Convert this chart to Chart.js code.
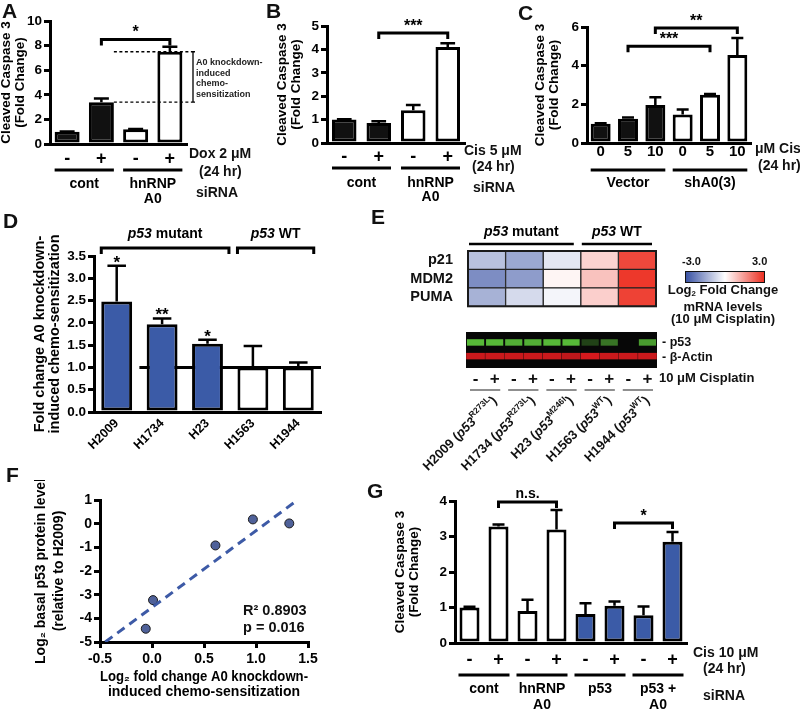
<!DOCTYPE html>
<html>
<head>
<meta charset="utf-8">
<script src="https://cdn.jsdelivr.net/npm/chart.js@4.4.0/dist/chart.umd.min.js"></script>
<style>
body { margin: 0; background: #fff; }
#fig { position: relative; width: 800px; height: 710px; overflow: hidden;
  font-family: 'Liberation Sans', Arial, Helvetica, sans-serif; font-weight: bold; color: #111; }
#fig canvas { position: absolute; }
.t { position: absolute; white-space: nowrap; line-height: 1; }
.L { font-size: 21px; }
.s14 { font-size: 14px; }
.s13 { font-size: 13px; }
.c { text-align: center; }
sub { font-size: 60%; vertical-align: -2px; }
#cbar { position: absolute; left: 685px; top: 271px; width: 78px; height: 10px; border: 1px solid #111;
  background: linear-gradient(to right, rgb(58,83,164), #fff, rgb(236,48,34)); }
</style>
</head>
<body>
<div id="fig">
  <canvas id="chA"></canvas><canvas id="chB"></canvas><canvas id="chC"></canvas>
  <canvas id="chD"></canvas><canvas id="chHeat"></canvas><canvas id="chBlot"></canvas>
  <canvas id="chF"></canvas><canvas id="chG"></canvas>

  <div class="t L" style="left:2px;top:0px">A</div>
  <div class="t L" style="left:266px;top:0px">B</div>
  <div class="t L" style="left:518px;top:2px">C</div>
  <div class="t L" style="left:3px;top:210px">D</div>
  <div class="t L" style="left:371px;top:206px">E</div>
  <div class="t L" style="left:6px;top:464px">F</div>
  <div class="t L" style="left:367px;top:480px">G</div>

  <div class="t s14" style="left:189px;top:146px">Dox 2 μM</div>
  <div class="t s14" style="left:199px;top:164px">(24 hr)</div>
  <div class="t s14" style="left:196px;top:185px">siRNA</div>
  <div class="t" style="left:196px;top:57px;font-size:9px;line-height:10.5px;color:#222">A0 knockdown-<br>induced<br>chemo-<br>sensitization</div>

  <div class="t s14" style="left:464px;top:143px">Cis 5 μM</div>
  <div class="t s14" style="left:472px;top:159px">(24 hr)</div>
  <div class="t s14" style="left:473px;top:180px">siRNA</div>

  <div class="t s14" style="left:755px;top:141px">μM Cis</div>
  <div class="t s14" style="left:758px;top:158px">(24 hr)</div>

  <div class="t" style="left:682px;top:256px;font-size:11px">-3.0</div>
  <div class="t" style="left:752px;top:256px;font-size:11px">3.0</div>
  <div id="cbar"></div>
  <div class="t s13 c" style="left:663px;top:284px;width:120px;line-height:12.5px">Log<sub>2</sub> Fold Change<br>mRNA levels<br>(10 μM Cisplatin)</div>
  <div class="t" style="left:662px;top:336px;font-size:12.5px">- p53</div>
  <div class="t" style="left:662px;top:351px;font-size:12.5px">- β-Actin</div>
  <div class="t s13" style="left:659px;top:371px">10 μM Cisplatin</div>

  <div class="t" style="left:243px;top:603px;font-size:14.5px">R² 0.8903</div>
  <div class="t" style="left:243px;top:620px;font-size:14.5px">p = 0.016</div>

  <div class="t s14" style="left:693px;top:645px">Cis 10 μM</div>
  <div class="t s14" style="left:703px;top:661px">(24 hr)</div>
  <div class="t s14" style="left:703px;top:688px">siRNA</div>
</div>

<script>
// ---- data ----
// A: Dox 2 uM
const aTicks = ['-', '+', '-', '+'];
const aMean = [1.0, 3.4, 1.2, 7.5];
const aSem = [0.02, 0.3, 0.02, 0.4];
// B: Cis 5 uM
const bTicks = ['-', '+', '-', '+'];
const bMean = [1.0, 0.85, 1.4, 4.1];
const bSem = [0.02, 0.08, 0.22, 0.16];
// C: shA0(3) vs vector
const cTicks = ['0', '5', '10', '0', '5', '10'];
const cMean = [1.0, 1.25, 1.97, 1.47, 2.5, 4.55];
const cSem = [0.02, 0.07, 0.4, 0.26, 0.04, 0.88];
// D: chemo-sensitization per cell line
const dLines = ['H2009', 'H1734', 'H23', 'H1563', 'H1944'];
const dMean = [2.48, 1.97, 1.53, 1.0, 1.0];
const dSem = [0.8, 0.13, 0.09, 0.48, 0.11];
const dStars = ['*', '**', '*', '', ''];
// E: heatmap + blot
const eGenes = ['p21', 'MDM2', 'PUMA'];
const eLines = ['H2009', 'H1734', 'H23', 'H1563', 'H1944'];
const eAllele = ['R273L', 'R273L', 'M246I', 'WT', 'WT'];
const eLog2 = [
  [-1.08, -1.52, -0.43, 0.64, 2.65],
  [-1.98, -1.72, 0.15, 0.88, 2.88],
  [-1.34, -0.64, -0.17, 0.69, 2.74]
];
const blotLanes = ['-', '+', '-', '+', '-', '+', '-', '+', '-', '+'];
const blotP53 = [0.9, 0.9, 0.85, 0.85, 0.9, 0.9, 0.3, 0.55, 0, 0.75];
const blotActin = [0.85, 0.85, 0.85, 0.85, 0.85, 0.8, 0.9, 0.85, 0.85, 0.85];
// F: scatter + fit
const fX = [-0.06, 0.01, 0.61, 0.97, 1.32];
const fY = [-4.44, -3.23, -0.92, 0.18, 0.01];
const fFitX = [-0.45, 1.40];
const fFitY = [-5.0, 1.0];
// G: p53 / A0 siRNA
const gTicks = ['-', '+', '-', '+', '-', '+', '-', '+'];
const gMean = [1.0, 3.28, 0.9, 3.2, 0.82, 1.05, 0.78, 2.85];
const gSem = [0.02, 0.06, 0.32, 0.55, 0.3, 0.12, 0.25, 0.28];

const FONT = "'Liberation Sans', Arial, Helvetica, sans-serif";
const BLUE = '#3b5ba7';
Chart.defaults.font.family = FONT;
Chart.defaults.font.weight = 'bold';
Chart.defaults.color = '#000';
Chart.defaults.animation = false;
Chart.defaults.plugins.legend.display = false;
Chart.defaults.plugins.tooltip.enabled = false;

function richText(ctx, parts, x, y, align) {
  let w = 0;
  parts.forEach(p => { ctx.font = p.f; p.w = ctx.measureText(p.t).width; w += p.w; });
  let cx = align === 'center' ? x - w / 2 : (align === 'right' ? x - w : x);
  ctx.textAlign = 'left';
  parts.forEach(p => { ctx.font = p.f; ctx.fillText(p.t, cx, y + (p.dy || 0)); cx += p.w; });
}
const bf = s => 'bold ' + s + 'px ' + FONT;
const bi = s => 'italic bold ' + s + 'px ' + FONT;

// draws error bars, brackets, group lines and other bits from the scales
const deco = {
  id: 'deco',
  beforeDatasetsDraw(chart, args, o) {
    const ctx = chart.ctx, a = chart.chartArea;
    ctx.save();
    if (o.blackBg) {
      ctx.fillStyle = '#070707';
      ctx.fillRect(a.left, a.top, a.right - a.left, a.bottom - a.top);
    }
    if (o.refLine != null) {
      const bars = chart.getDatasetMeta(0).data;
      const y = chart.scales.y.getPixelForValue(o.refLine);
      const x0 = (bars[0].x + bars[0].width / 2 + bars[1].x - bars[1].width / 2) / 2;
      ctx.strokeStyle = '#000'; ctx.lineWidth = 3;
      ctx.beginPath(); ctx.moveTo(x0, y); ctx.lineTo(a.right, y); ctx.stroke();
    }
    ctx.restore();
  },
  afterDatasetsDraw(chart, args, o) {
    const ctx = chart.ctx, a = chart.chartArea;
    const bars = chart.getDatasetMeta(0).data;
    const ys = chart.scales.y;
    const mean = chart.data.datasets[0].data;
    ctx.save();
    ctx.strokeStyle = '#000'; ctx.fillStyle = '#000';
    if (o.sem) {
      ctx.lineWidth = 2.5;
      bars.forEach((b, i) => {
        const yt = ys.getPixelForValue(mean[i] + o.sem[i]);
        const h = b.width * 0.3;
        ctx.beginPath();
        ctx.moveTo(b.x, b.y); ctx.lineTo(b.x, yt);
        ctx.moveTo(b.x - h, yt); ctx.lineTo(b.x + h, yt);
        ctx.stroke();
        if (o.stars && o.stars[i]) {
          ctx.font = bf(17); ctx.textAlign = 'center'; ctx.textBaseline = 'alphabetic';
          ctx.fillText(o.stars[i], b.x, yt + 2);
        }
      });
    }
    (o.brackets || []).forEach(k => {
      const x1 = bars[k.a].x, x2 = bars[k.b].x, y = ys.getPixelForValue(k.v);
      ctx.lineWidth = 3;
      ctx.beginPath(); ctx.moveTo(x1, y + 6); ctx.lineTo(x1, y); ctx.lineTo(x2, y); ctx.lineTo(x2, y + 6); ctx.stroke();
      ctx.font = bf(k.size || 16); ctx.textAlign = 'center'; ctx.textBaseline = 'alphabetic';
      ctx.fillText(k.text, (x1 + x2) / 2, y - (k.lift || 2));
    });
    (o.topBrackets || []).forEach(k => {
      const b1 = bars[k.a], b2 = bars[k.b];
      const x1 = b1.x - b1.width / 2, x2 = b2.x + b2.width / 2 + (k.ext || 0), y = ys.getPixelForValue(k.v);
      ctx.lineWidth = 3;
      ctx.beginPath(); ctx.moveTo(x1, y + 6); ctx.lineTo(x1, y); ctx.lineTo(x2, y); ctx.lineTo(x2, y + 6); ctx.stroke();
      ctx.textBaseline = 'middle';
      richText(ctx, k.parts, (x1 + x2) / 2, y - 14, 'center');
    });
    if (o.span) {
      const s = o.span, b1 = bars[s.a];
      const x0 = b1.x + b1.width / 2, xe = a.right + s.ext;
      const y1 = ys.getPixelForValue(mean[s.a]), y2 = ys.getPixelForValue(mean[s.b]);
      ctx.lineWidth = 1.3; ctx.setLineDash([3, 2.5]);
      ctx.beginPath(); ctx.moveTo(x0, y1); ctx.lineTo(xe, y1); ctx.moveTo(x0, y2); ctx.lineTo(xe, y2); ctx.stroke();
      ctx.setLineDash([]);
      ctx.beginPath(); ctx.moveTo(xe + 2, y1); ctx.lineTo(xe + 2, y2);
      ctx.moveTo(xe, y1); ctx.lineTo(xe + 4, y1); ctx.moveTo(xe, y2); ctx.lineTo(xe + 4, y2); ctx.stroke();
    }
    if (o.groups) {
      ctx.lineWidth = o.gLW || 3; ctx.strokeStyle = o.gColor || '#000';
      o.groups.forEach(g => {
        const b1 = bars[g.a], b2 = bars[g.b];
        const xl = b1.x - b1.width / 2 - (o.gExt || 0), xr = b2.x + b2.width / 2 + (o.gExt || 0);
        const y = a.bottom + o.gLine;
        ctx.beginPath(); ctx.moveTo(xl, y); ctx.lineTo(xr, y); ctx.stroke();
        ctx.font = bf(o.gSize || 14); ctx.textAlign = 'center'; ctx.textBaseline = 'middle';
        (g.lines || []).forEach((t, j) => ctx.fillText(t, (xl + xr) / 2, a.bottom + o.gText + j * o.gLH));
      });
    }
    if (o.rot) {
      const r = o.rot;
      r.names.forEach((n, i) => {
        const cx = (bars[2 * i].x + bars[2 * i + 1].x) / 2;
        ctx.save();
        ctx.translate(cx + r.dx, a.bottom + r.dy);
        ctx.rotate(-Math.PI / 4);
        ctx.textBaseline = 'middle'; ctx.fillStyle = '#111';
        richText(ctx, [
          { t: n + ' (', f: bf(13) },
          { t: 'p53', f: bi(13) },
          { t: r.sup[i], f: bf(8.5), dy: -5 },
          { t: ')', f: bf(13) }
        ], 0, 0, 'right');
        ctx.restore();
      });
    }
    if (o.heat) {
      ctx.lineWidth = 2; ctx.strokeStyle = '#1a1a1a';
      ctx.strokeRect(a.left, a.top, a.right - a.left, a.bottom - a.top);
      o.heat.forEach(g => {
        const x1 = chart.getDatasetMeta(g.a).data[0].base + 1;
        const x2 = chart.getDatasetMeta(g.b).data[0].x - g.inset;
        const y = a.top - 7;
        ctx.lineWidth = 2.5; ctx.strokeStyle = '#000';
        ctx.beginPath(); ctx.moveTo(x1, y); ctx.lineTo(x2, y); ctx.stroke();
        ctx.textBaseline = 'middle';
        richText(ctx, g.parts, (x1 + x2) / 2, y - 12, 'center');
      });
    }
    ctx.restore();
  }
};
Chart.register(deco);

function place(id, box) {
  const cv = document.getElementById(id);
  cv.width = box.w; cv.height = box.h;
  Object.assign(cv.style, { left: box.l + 'px', top: box.t + 'px', width: box.w + 'px', height: box.h + 'px' });
  return cv;
}

function barPanel(id, box, area, c) {
  const cv = place(id, box);
  return new Chart(cv, {
    type: 'bar',
    data: {
      labels: c.ticks,
      datasets: [{
        data: c.mean, backgroundColor: c.fill, borderColor: '#000', borderWidth: 3,
        borderSkipped: false, barPercentage: c.barPct, categoryPercentage: 1
      }]
    },
    options: {
      responsive: false,
      layout: { padding: { left: 0, top: area.y0 - box.t, right: box.l + box.w - area.x1, bottom: 0 } },
      plugins: { deco: c.deco },
      scales: {
        x: {
          grid: { display: false, drawTicks: false },
          border: { width: 3, color: '#000' },
          ticks: { font: { size: c.xSize || 18 }, padding: c.xPad, maxRotation: c.rot || 0, minRotation: c.rot || 0, autoSkip: false },
          afterFit: s => { s.height = box.t + box.h - area.y1; }
        },
        y: {
          min: 0, max: c.max,
          ticks: { stepSize: c.step, font: { size: 13.5 }, padding: 2, callback: c.fmt || (v => v) },
          grid: { drawOnChartArea: false, tickLength: 6, lineWidth: 3, color: '#000' },
          border: { width: 3, color: '#000' },
          title: { display: true, text: c.title, font: { size: c.tSize || 13.5, lineHeight: 1 }, padding: { top: c.tPad, bottom: 0 } },
          afterFit: s => { s.width = area.x0 - box.l; }
        }
      }
    }
  });
}

const casp = ['Cleaved Caspase 3', '(Fold Change)'];
const pair = (labels) => labels.map((l, i) => ({ a: 2 * i, b: 2 * i + 1, lines: l }));

// A
barPanel('chA', { l: 0, t: 0, w: 270, h: 210 }, { x0: 50, x1: 187, y0: 21, y1: 144 }, {
  ticks: aTicks, mean: aMean, fill: ['#111', '#111', '#fff', '#fff'], barPct: 0.73,
  max: 10, step: 2, title: casp, tPad: 0, xPad: 4,
  deco: {
    sem: aSem,
    brackets: [{ a: 1, b: 3, v: 8.5, text: '*' }],
    span: { a: 1, b: 3, ext: 4 },
    groups: [{ a: 0, b: 1, lines: ['cont'] }, { a: 2, b: 3, lines: ['hnRNP', 'A0'] }],
    gLine: 26, gText: 40, gLH: 15
  }
});

// B
barPanel('chB', { l: 270, t: 0, w: 255, h: 210 }, { x0: 327, x1: 465, y0: 26, y1: 143 }, {
  ticks: bTicks, mean: bMean, fill: ['#111', '#111', '#fff', '#fff'], barPct: 0.71,
  max: 5, step: 1, title: casp, tPad: 6, xPad: 3,
  deco: {
    sem: bSem,
    brackets: [{ a: 1, b: 3, v: 4.7, text: '***' }],
    groups: [{ a: 0, b: 1, lines: ['cont'] }, { a: 2, b: 3, lines: ['hnRNP', 'A0'] }],
    gLine: 25, gText: 40, gLH: 14
  }
});

// C
barPanel('chC', { l: 530, t: 0, w: 270, h: 210 }, { x0: 587, x1: 751, y0: 27, y1: 143 }, {
  ticks: cTicks, mean: cMean, fill: ['#111', '#111', '#111', '#fff', '#fff', '#fff'], barPct: 0.73,
  max: 6, step: 2, title: casp, tPad: 4, xPad: 0, xSize: 15,
  deco: {
    sem: cSem,
    brackets: [{ a: 1, b: 4, v: 5.0, text: '***' }, { a: 2, b: 5, v: 5.95, text: '**' }],
    groups: [{ a: 0, b: 2, lines: ['Vector'] }, { a: 3, b: 5, lines: ['shA0(3)'] }],
    gLine: 27, gText: 40, gLH: 14
  }
});

// D
barPanel('chD', { l: 0, t: 225, w: 345, h: 240 }, { x0: 94, x1: 321, y0: 256, y1: 412 }, {
  ticks: dLines, mean: dMean, fill: [BLUE, BLUE, BLUE, '#fff', '#fff'], barPct: 0.68,
  max: 3.5, step: 0.5, fmt: v => v.toFixed(1), title: ['Fold change A0 knockdown-', 'induced chemo-sensitization'],
  tSize: 14.5, tPad: 33, xPad: 4, xSize: 12.5, rot: 45,
  deco: {
    sem: dSem, stars: dStars, refLine: 1,
    topBrackets: [
      { a: 0, b: 2, v: 3.68, ext: 6, parts: [{ t: 'p53', f: bi(14) }, { t: ' mutant', f: bf(14) }] },
      { a: 3, b: 4, v: 3.68, ext: 0, parts: [{ t: 'p53', f: bi(14) }, { t: ' WT', f: bf(14) }] }
    ]
  }
});

// E heatmap
function heatColor(v) {
  const t = Math.max(-1, Math.min(1, v / 3));
  const end = t < 0 ? [58, 83, 164] : [236, 48, 34], k = Math.abs(t);
  return 'rgb(' + end.map(c => Math.round(255 + (c - 255) * k)).join(',') + ')';
}
(function () {
  const box = { l: 360, t: 225, w: 440, h: 105 }, area = { x0: 468, x1: 656, y0: 251, y1: 324 };
  new Chart(place('chHeat', box), {
    type: 'bar',
    data: {
      labels: eGenes,
      datasets: eLines.map((ln, c) => ({
        label: ln,
        data: eGenes.map(() => 1),
        backgroundColor: eGenes.map((g, r) => heatColor(eLog2[r][c])),
        borderColor: '#222', borderWidth: 1, borderSkipped: false,
        barPercentage: 1, categoryPercentage: 1
      }))
    },
    options: {
      indexAxis: 'y', responsive: false,
      layout: { padding: { left: 0, top: area.y0 - box.t, right: box.l + box.w - area.x1, bottom: box.t + box.h - area.y1 } },
      plugins: {
        deco: {
          heat: [
            { a: 0, b: 2, inset: 7, parts: [{ t: 'p53', f: bi(14) }, { t: ' mutant', f: bf(14) }] },
            { a: 3, b: 4, inset: 4, parts: [{ t: 'p53', f: bi(14) }, { t: ' WT', f: bf(14) }] }
          ]
        }
      },
      scales: {
        x: { stacked: true, min: 0, max: eLines.length, display: false },
        y: {
          stacked: true, grid: { display: false, drawTicks: false }, border: { display: false },
          ticks: { font: { size: 14.5 }, color: '#111', padding: 15 },
          afterFit: s => { s.width = area.x0 - box.l; }
        }
      }
    }
  });
})();

// E blot
(function () {
  const box = { l: 360, t: 330, w: 440, h: 150 }, area = { x0: 466, x1: 657, y0: 332, y1: 368 };
  new Chart(place('chBlot', box), {
    type: 'bar',
    data: {
      labels: blotLanes,
      datasets: [
        { data: blotLanes.map(() => [0.62, 0.80]), backgroundColor: blotP53.map(v => 'rgba(96,205,62,' + v + ')'),
          barPercentage: 0.9, categoryPercentage: 1, grouped: false, borderWidth: 0 },
        { data: blotLanes.map(() => [0.24, 0.42]), backgroundColor: blotActin.map(v => 'rgba(236,28,32,' + v + ')'),
          barPercentage: 0.98, categoryPercentage: 1, grouped: false, borderWidth: 0 }
      ]
    },
    options: {
      responsive: false,
      layout: { padding: { left: area.x0 - box.l, top: area.y0 - box.t, right: box.l + box.w - area.x1, bottom: 0 } },
      plugins: {
        deco: {
          blackBg: true,
          groups: eLines.map((n, i) => ({ a: 2 * i, b: 2 * i + 1 })),
          gLine: 22, gLW: 1.2, gColor: '#444', gExt: -3,
          rot: { names: eLines, sup: eAllele, dx: 10, dy: 31 }
        }
      },
      scales: {
        x: {
          grid: { display: false, drawTicks: false }, border: { display: false },
          ticks: { font: { size: 17 }, padding: 1, color: '#111' },
          afterFit: s => { s.height = box.t + box.h - area.y1; }
        },
        y: { min: 0, max: 1, display: false }
      }
    }
  });
})();

// F
(function () {
  const box = { l: 0, t: 480, w: 330, h: 230 }, area = { x0: 100, x1: 308, y0: 500, y1: 642 };
  const tickGrid = { drawOnChartArea: false, tickLength: 6, lineWidth: 3, color: '#000' };
  new Chart(place('chF', box), {
    type: 'scatter',
    data: {
      datasets: [
        { type: 'line', data: fFitX.map((x, i) => ({ x, y: fFitY[i] })), borderColor: '#3d5aa6', borderWidth: 3,
          borderDash: [9, 6], pointRadius: 0, fill: false },
        { data: fX.map((x, i) => ({ x, y: fY[i] })), pointRadius: 4.5, backgroundColor: '#4f6199',
          borderColor: '#1b1b1b', borderWidth: 1 }
      ]
    },
    options: {
      responsive: false,
      layout: { padding: { left: 0, top: area.y0 - box.t, right: box.l + box.w - area.x1, bottom: 0 } },
      scales: {
        x: {
          min: -0.5, max: 1.5,
          ticks: { stepSize: 0.5, callback: v => v.toFixed(1), font: { size: 14 } },
          grid: tickGrid, border: { width: 3, color: '#000' },
          title: { display: true, text: ['Log₂ fold change A0 knockdown-', 'induced chemo-sensitization'],
            font: { size: 14, lineHeight: 1.1 }, padding: { top: 0, bottom: 10 } },
          afterFit: s => { s.height = box.t + box.h - area.y1; }
        },
        y: {
          min: -5, max: 1,
          ticks: { stepSize: 1, font: { size: 14 }, padding: 2 },
          grid: tickGrid, border: { width: 3, color: '#000' },
          title: { display: true, text: ['Log₂ basal p53 protein level', '(relative to H2009)'],
            font: { size: 14, lineHeight: 1.3 }, padding: { top: 32, bottom: 0 } },
          afterFit: s => { s.width = area.x0 - box.l; }
        }
      }
    }
  });
})();

// G
barPanel('chG', { l: 385, t: 470, w: 415, h: 240 }, { x0: 455, x1: 687, y0: 501, y1: 643 }, {
  ticks: gTicks, mean: gMean, fill: ['#fff', '#fff', '#fff', '#fff', BLUE, BLUE, BLUE, BLUE], barPct: 0.69,
  max: 4, step: 1, title: casp, tPad: 9, xPad: 6,
  deco: {
    sem: gSem,
    brackets: [{ a: 1, b: 3, v: 3.97, text: 'n.s.', size: 14, lift: 4 }, { a: 5, b: 7, v: 3.38, text: '*' }],
    groups: pair([['cont'], ['hnRNP', 'A0'], ['p53'], ['p53 +', 'A0']]),
    gLine: 32, gText: 46, gLH: 16, gExt: 1
  }
});
</script>
</body>
</html>
